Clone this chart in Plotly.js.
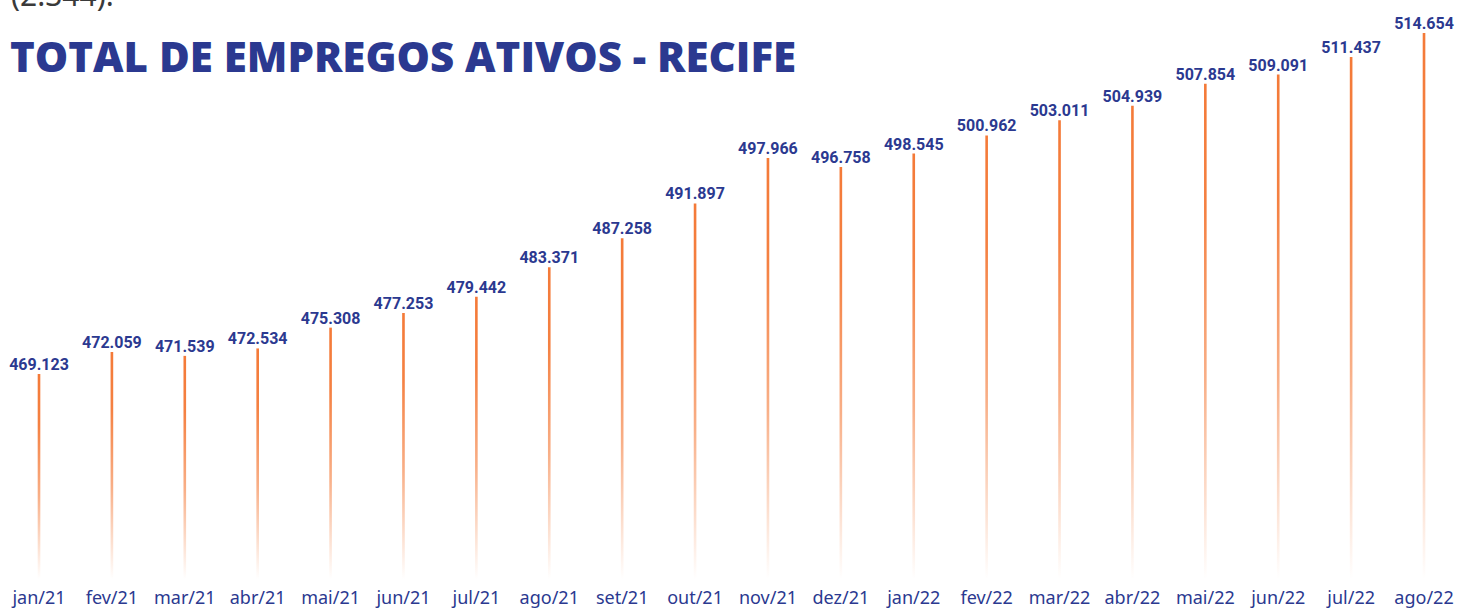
<!DOCTYPE html>
<html>
<head>
<meta charset="utf-8">
<script src="https://cdn.plot.ly/plotly-3.0.1.min.js"></script>
<style>html,body{margin:0;padding:0;background:#fff;}#chart{width:1473px;height:611px;}</style>
</head>
<body>
<div id="chart"></div>
<script>
const monthLabels = ["jan/21","fev/21","mar/21","abr/21","mai/21","jun/21","jul/21","ago/21","set/21","out/21","nov/21","dez/21","jan/22","fev/22","mar/22","abr/22","mai/22","jun/22","jul/22","ago/22"];
const empregos = [469123,472059,471539,472534,475308,477253,479442,483371,487258,491897,497966,496758,498545,500962,503011,504939,507854,509091,511437,514654];

const BLUE = "#2B3990";
const ORANGE = "244,122,56";
const axisMin = 441350, axisMax = 519050;
const halfW = 0.018;

const traces = [];
empregos.forEach((v, i) => {
  traces.push({
    type: "scatter",
    x: [i - halfW, i + halfW, i + halfW, i - halfW, i - halfW],
    y: [axisMin, axisMin, v, v, axisMin],
    mode: "lines",
    line: {width: 0},
    fill: "toself",
    fillgradient: {
      type: "vertical",
      start: axisMin + 400,
      stop: v,
      colorscale: [[0, "rgba(" + ORANGE + ",0)"], [0.4, "rgba(" + ORANGE + ",0.6)"], [0.75, "rgba(" + ORANGE + ",0.95)"], [1, "rgba(" + ORANGE + ",1)"]]
    },
    hoverinfo: "skip",
    showlegend: false
  });
});
traces.push({
  type: "scatter",
  x: empregos.map((v, i) => i),
  y: empregos,
  mode: "text",
  text: empregos.map(v => v.toLocaleString("de-DE")),
  textposition: "top center",
  textfont: {family: "Roboto, Arial, sans-serif", size: 16, color: BLUE, weight: 700},
  cliponaxis: false,
  showlegend: false,
  hoverinfo: "skip"
});

const layout = {
  width: 1473, height: 611,
  margin: {l: 0, r: 0, t: 0, b: 29},
  paper_bgcolor: "#fff", plot_bgcolor: "#fff",
  showlegend: false,
  xaxis: {
    range: [-0.535, 19.672],
    tickmode: "array",
    tickvals: empregos.map((v, i) => i),
    ticktext: monthLabels,
    showgrid: false, zeroline: false, showline: false, ticks: "",
    ticklabelstandoff: 3,
    tickfont: {family: "Noto Sans, sans-serif", size: 18, color: BLUE},
    fixedrange: true
  },
  yaxis: {
    range: [axisMin, axisMax],
    visible: false, showgrid: false, zeroline: false,
    fixedrange: true
  },
  annotations: [
    {text: "TOTAL DE EMPREGOS ATIVOS - RECIFE", xref: "paper", yref: "paper", x: 0.0055, y: 1 - 55/582, xanchor: "left", yanchor: "middle", showarrow: false,
     font: {family: "Open Sans, sans-serif", size: 42, color: BLUE, weight: 800}},
    {text: "(2.344).", xref: "paper", yref: "paper", x: 0.006, y: 1 + 6/582, xanchor: "left", yanchor: "middle", showarrow: false,
     font: {family: "Noto Sans, sans-serif", size: 30, color: "#3a3a3a"}}
  ]
};
Plotly.newPlot("chart", traces, layout, {displayModeBar: false, staticPlot: true});
</script>
</body>
</html>
